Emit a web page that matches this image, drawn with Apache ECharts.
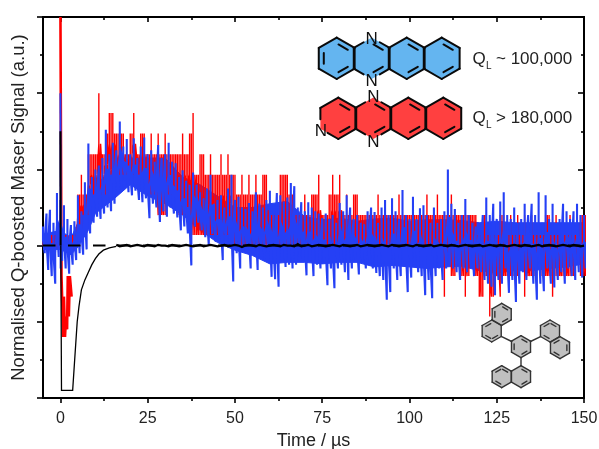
<!DOCTYPE html>
<html><head><meta charset="utf-8">
<style>html,body{margin:0;padding:0;background:#fff}#c{width:599px;height:449px}</style>
<script src="https://cdn.jsdelivr.net/npm/echarts@6/dist/echarts.min.js"></script>
</head><body><div id="c"></div>
<script>
// one upper and one lower value per microsecond, from t = -5 to t = 150
const firstTime = -5;
const blueHigh = [.25,.42,.47,.30,.69,
.60,.53,.35,.27,.32,.66,.45,.83,1.34,.90,
1.0,1.05,1.15,1.52,1.2,1.35,1.25,1.63,1.3,1.4,
1.2,1.41,1.15,1.3,1.42,1.2,1.25,1.1,1.32,1.15,
1.2,1.35,1.1,1.08,.9,.99,.85,.8,.96,.8,
.70,.62,.75,.93,.55,.6,.66,.5,.75,.93,
.6,.64,.5,.48,.56,.45,.7,.55,.5,.6,
.72,.55,.69,.66,.58,.63,.82,.78,.5,.57,
.45,.57,.5,.45,.42,.36,.42,.35,.4,.3,
.56,.45,.66,.5,.35,.4,.3,.28,.45,.5,
.44,.3,.5,.6,.4,.62,.45,.35,.73,.4,
.35,.64,.35,.49,.53,.4,.3,.5,.3,.35,
.45,1.0,.55,.48,.3,.4,.61,.4,.3,.25,
.3,.4,.63,.4,.55,.35,.58,.7,.4,.35,
.5,.3,.35,.55,.4,.55,.4,.7,.3,.66,
.35,.55,.3,.35,.55,.45,.35,.45,.55,.4,.4];
const blueLow = [-.1,-.32,-.4,-.5,-.15,
-.2,-.3,-.37,-.25,-.19,-.1,-.12,-.05,.16,.3,
.38,.35,.42,.5,.45,.55,.7,.75,.86,.7,
.66,.72,.6,.57,.62,.36,.55,.5,.31,.45,
.38,.5,.42,.37,.2,.25,.16,-.26,.25,.3,
.2,.11,.0,.15,.05,.1,-.19,.0,.02,-.47,
-.1,-.3,-.05,-.1,-.3,-.1,-.32,-.15,-.2,-.1,
-.41,-.44,-.54,-.2,-.28,-.25,-.3,-.25,-.15,-.2,
-.39,-.2,-.4,-.25,-.3,-.2,-.52,-.3,-.56,-.3,
-.25,-.35,-.45,-.3,-.2,-.38,-.22,-.3,-.2,-.3,
-.36,-.4,-.45,-.71,-.61,-.3,-.45,-.4,-.25,-.61,
-.42,-.25,-.35,-.4,-.65,-.45,-.69,-.4,-.3,-.45,
-.3,-.25,-.3,-.35,-.45,-.3,-.35,-.25,-.4,-.3,
-.35,-.45,-.5,-.54,-.65,-.45,-.5,-.3,-.62,-.45,
-.74,-.5,-.35,-.45,-.3,-.5,-.71,-.5,-.6,-.3,
-.5,-.55,-.45,-.35,-.5,-.3,-.4,-.45,-.35,-.42,-.3];
// the solid inner band of the blue trace
const blueBandTimes = [-5,0,3,5,8,10,15,20,25,30,35,40,45,50,55,60,65,70,75,80,85,90,95,100,105,110,115,120,125,130,135,140,145,150];
const blueBandTop = [.15,.2,.1,.3,.7,.8,1.0,1.15,1.15,1.15,.9,.8,.65,.5,.5,.55,.58,.38,.34,.36,.32,.35,.36,.32,.34,.34,.33,.3,.32,.3,.3,.3,.3,.3];
const blueBandBottom = [-.05,-.05,-.12,-.02,.2,.42,.6,.8,.65,.55,.4,.2,.04,-.06,-.13,-.24,-.22,-.22,-.24,-.22,-.22,-.28,-.26,-.28,-.3,-.28,-.27,-.33,-.36,-.33,-.33,-.3,-.28,-.24];
const redHigh = [.14,.14,.14,.14,.14,
.4,.14,.14,.14,.14,.67,.93,.67,1.2,1.2,
1.2,2.0,1.2,1.47,1.74,1.74,1.47,1.47,1.47,1.2,
1.47,1.74,1.2,1.47,1.47,1.2,1.47,1.2,1.47,1.2,
1.47,1.2,1.2,1.2,1.2,1.47,1.2,1.47,1.74,.93,
1.2,1.2,.93,1.2,.93,.93,1.2,.93,1.2,.93,
.93,.67,.93,.67,.93,.67,.93,.67,.93,.93,
.4,.4,.4,.93,.93,.93,.67,.67,.4,.4,
.67,.4,.67,.67,.93,.4,.4,.67,.93,.67,
.93,.4,.67,.4,.67,.67,.4,.4,.4,.4,
.4,.67,.4,.4,.4,.4,.4,.67,.4,.4,
.4,.4,.4,.4,.4,.67,.4,.4,.67,.4,
.4,.4,.67,.4,.4,.4,.4,.4,.4,.4,
.14,.4,.4,.14,.4,.14,.4,.4,.14,.4,
.14,.4,.14,.4,.14,.4,.14,.14,.14,.4,
.4,.14,.4,.14,.4,.14,.4,.14,.14,.4,.4];
const redLow = [0,0,0,0,0,
0,0,0,0,0,.14,.14,.4,.4,.67,
.67,.67,.67,.67,.93,.93,.93,.93,.93,.93,
.93,.93,.93,.93,.93,.67,.67,.67,.4,.4,
.4,.67,.67,.67,.4,.4,.4,.4,.14,.14,
.14,.14,.14,.14,.14,.14,.14,.14,.14,.14,
0,0,0,0,0,0,0,0,0,0,
0,0,0,0,0,0,0,0,0,0,
0,0,0,0,0,0,0,0,0,0,
0,0,0,0,0,0,0,0,0,0,
0,0,0,0,0,0,0,0,0,0,
0,0,0,0,0,0,0,0,0,0,
-.67,0,-.4,-.4,0,-.4,-.67,-.4,0,-.4,
-.67,-.67,-.4,-.93,-.67,-.4,-.67,-.4,-.4,-.4,
-.4,-.4,0,-.67,-.4,-.4,-.4,0,-.4,-.4,
-.4,-.67,-.4,-.4,-.4,-.4,-.4,-.4,0,-.4,-.4];
// the excitation pulse near t = 0
const redPulseTimes = [0,0.3,0.8,1.0,1.3,1.6,1.9,2.1,2.4,2.7,3.2];
const redPulseValues = [3.0,-.4,-1.2,-.67,-1.2,-.93,-1.1,-.4,-.93,-.4,-.67];
const bluePulseTimes = [0,0.05];
const bluePulseValues = [2.0,-.3];
const blackSpikeTimes = [0,0.05];
const blackSpikeValues = [1.5,0];
const blackDecayTimes = [0.1,0.3,3.5,4.0,4.8,5.3,6,7,8,9,10,11,12.3,14,16];
const blackDecayValues = [0,-1.9,-1.9,-1.55,-1.0,-.8,-.58,-.45,-.35,-.25,-.17,-.11,-.06,-.03,-.01];
// black trace from t = 16 to t = 150
const blackTailStart = 16;
const blackTail = [.01,-.01,.0,.01,-.01,.0,.01,.0,-.01,.01,.0,-.01,.01,.0,.0,-.01,.01,.0,-.01,.0,
.01,.0,-.01,.0,.01,-.01,.0,.01,.0,-.01,.0,.01,-.01,.0,.01,.0,-.02,.0,.01,.0,
-.01,.01,.0,-.01,.0,.01,.0,-.01,.01,.0,.0,-.01,.02,-.01,.0,.01,-.01,.0,.01,.0,
-.01,.0,.01,.0,-.01,.01,.0,-.01,.0,.01,-.01,.0,.01,.0,-.01,.0,.01,.0,-.01,.01,
.0,-.01,.0,.01,.0,-.01,.01,.0,-.01,.0,.01,-.01,.0,.01,.0,-.01,.01,.0,-.01,.0,
.01,.0,-.01,.0,.01,-.01,.0,.01,.0,-.01,.01,.0,-.01,.0,.01,.0,-.01,.01,.0,-.01,
.0,.01,-.01,.0,.01,.0,-.01,.0,.01,.0,-.01,.01,.0,-.01,.0];
const zeroLine = [[-5,0],[150,0]];
const xMajor = [0,25,50,75,100,125,150];
const xMinor = [12.5,37.5,62.5,87.5,112.5,137.5];

const RED='#ff0000', BLUE='#2540f5';
function pulse(ts,vs){return ts.map((t,i)=>[t,vs[i]]);}
const blueData=[];
blueHigh.forEach((h,i)=>{const t=firstTime+i,l=blueLow[i],m=(h+l)/2;
  blueData.push([t,m],[t,h],[t,m],[t+.5,m],[t+.5,l],[t+.5,m]);});
const redData=[];
redHigh.forEach((h,i)=>{const t=firstTime+i,l=redLow[i],m=(h+l)/2;
  const n=i+1<redHigh.length?i+1:i;
  const s=Math.min(h,redHigh[n]), sl=Math.max(l,redLow[n]);
  redData.push([t,m],[t,l],[t,h],[t,m],[t+.5,m],[t+.5,sl],[t+.5,s],[t+.5,m]);});
const tailData=blackTail.map((v,i)=>[blackTailStart+i,v]);
function line(name,data,color,width,extra){return Object.assign({name,type:'line',data,symbol:'none',sampling:null,animation:false,silent:true,
  lineStyle:{color,width,join:'miter'},xAxisIndex:0,yAxisIndex:0},extra||{});}

const axisStyle={lineStyle:{color:'#000',width:2}};
function xAx(pos,vals,len,inside,labels){return {type:'value',position:pos,min:-5,max:150,
  axisLine:Object.assign({show:true,onZero:false},axisStyle),splitLine:{show:false},
  axisTick:{show:true,customValues:vals,length:len,inside,lineStyle:{color:'#000',width:1.6}},
  axisLabel:labels?{show:true,customValues:vals,color:'#222',fontFamily:'Liberation Sans',fontSize:16,margin:13}:{show:false}};}
const x0=xAx('bottom',xMajor,5,false,true);
Object.assign(x0,{name:'Time / µs',nameLocation:'middle',nameGap:34,nameTextStyle:{color:'#222',fontFamily:'Liberation Sans',fontSize:18}});
function yAx(pos,inside,title){const a={type:'value',position:pos,min:-2,max:3,interval:1,
  axisLine:Object.assign({show:true,onZero:false},axisStyle),splitLine:{show:false},minorSplitLine:{show:false},
  axisTick:{show:true,length:6,inside,lineStyle:{color:'#000',width:1.6}},
  minorTick:{show:true,splitNumber:2,length:3,lineStyle:{color:'#000',width:1.6}},axisLabel:{show:false}};
  if(title)Object.assign(a,{name:title,nameLocation:'middle',nameGap:15,nameTextStyle:{color:'#222',fontFamily:'Liberation Sans',fontSize:18.5}});
  return a;}

// molecule drawings
const g=[];
function hexV(c,r){const v=[];for(let k=0;k<6;k++){const a=(-90+60*k)*Math.PI/180;v.push([c[0]+r*Math.cos(a),c[1]+r*Math.sin(a)]);}return v;}
function seg(a,b,col,w){g.push({type:'line',z:50,shape:{x1:a[0],y1:a[1],x2:b[0],y2:b[1]},style:{stroke:col,lineWidth:w,lineCap:'round'}});}
function lerp(a,b,t){return [a[0]+(b[0]-a[0])*t,a[1]+(b[1]-a[1])*t];}
function ring(c,r,fill,col,w,inner,cut){
  const v=hexV(c,r);cut=cut||{};
  g.push({type:'polygon',z:49,shape:{points:v},style:{fill,stroke:null}});
  for(let e=0;e<6;e++){const a=v[e],b=v[(e+1)%6];const s=cut[e]||[0,1];seg(lerp(a,b,s[0]),lerp(a,b,s[1]),col,w);}
  const iv=hexV(c,r*0.72);
  (inner||[]).forEach(e=>{const a=iv[e],b=iv[(e+1)%6];seg(lerp(a,b,.14),lerp(a,b,.86),col,w);});
}
function txt(t,x,y,size,col,align){g.push({type:'text',z:60,style:{text:t,x,y,fill:col||'#222',font:(size||16)+'px "Liberation Sans"',textAlign:align||'left',textVerticalAlign:'middle'}});}
const R=20.7, D=35;
const N2cut={5:[0,.55],0:[.45,1],2:[0,.55],3:[.45,1]};
[0,1,2,3].forEach(i=>{
  const c=[336.7+D*i,58.3];
  ring(c,R,'#64b5f0','#0a0a0a',2,i===0?[0,2,4]:[0,2],i===1?N2cut:null);
});
[0,1,2,3].forEach(i=>{
  const c=[338.3+D*i,118.3];
  const cut=i===1?N2cut:(i===0?{3:[0,.6],4:[.45,1]}:null);
  ring(c,R,'#ff4040','#0a0a0a',2,[0,2],cut);
});
txt('N',371.7,39,17,'#111','center');txt('N',371.7,81,17,'#111','center');
txt('N',373.3,97,17,'#111','center');txt('N',373.3,142,17,'#111','center');
txt('N',321,131,17,'#111','center');
function qLabel(y,rest){txt('Q',472.5,y,17,'#222');txt('L',486,y+7,10,'#222');txt(rest,496,y,17,'#222');}
qLabel(59,'~ 100,000');qLabel(118,'> 180,000');
const GF='#c0c0c0',GS='#333',gr=11;
ring([521,346.7],gr,GF,GS,1.4,[0,2,4]);
ring([501.7,314.3],gr,GF,GS,1.4,[0,2,4]);ring([491.7,331],gr,GF,GS,1.4,[2,3,5]);
ring([550,331],gr,GF,GS,1.4,[0,3,5]);ring([560,347.7],gr,GF,GS,1.4,[1,3,5]);
ring([501.7,376.7],gr,GF,GS,1.4,[3,5,0]);ring([521,376.7],gr,GF,GS,1.4,[0,2]);
seg([501.7,336.7],[511.7,341.5],GS,1.4);seg([540.5,336.7],[530.5,341.5],GS,1.4);seg([521,357.7],[521,366],GS,1.4);

const chart=echarts.init(document.getElementById('c'),null,{renderer:'canvas'});
chart.setOption({animation:false,backgroundColor:'#fff',
 grid:{left:43,right:15,top:17,bottom:51,containLabel:false,outerBoundsMode:'none'},
 xAxis:[x0,xAx('bottom',xMinor,3,false,false),xAx('top',xMajor,5,true,false),xAx('top',xMinor,3,true,false)],
 yAxis:[yAx('left',false,'Normalised Q-boosted Maser Signal (a.u.)'),yAx('right',true,null)],
 series:[
  line('red',redData,RED,1.4),
  line('redPulse',pulse(redPulseTimes,redPulseValues),RED,2.6),
  {name:'blueBand',type:'custom',silent:true,animation:false,clip:true,data:[[0,0]],xAxisIndex:0,yAxisIndex:0,
   renderItem:function(params,api){
    const pts=[];
    blueBandTimes.forEach((t,i)=>pts.push(api.coord([t,blueBandTop[i]])));
    for(let i=blueBandTimes.length-1;i>=0;i--)pts.push(api.coord([blueBandTimes[i],blueBandBottom[i]]));
    return {type:'polygon',shape:{points:pts},style:{fill:BLUE,stroke:BLUE,lineWidth:1}};
   }},
  line('blue',blueData,BLUE,2.1),
  line('bluePulse',pulse(bluePulseTimes,bluePulseValues),BLUE,2),
  line('zero',zeroLine,'#000',2,{lineStyle:{color:'#000',width:2,type:[12.5,12.5]}}),
  line('blackSpike',pulse(blackSpikeTimes,blackSpikeValues),'#000',2),
  line('blackDecay',pulse(blackDecayTimes,blackDecayValues),'#000',1.3),
  line('blackTail',tailData,'#000',2.2)
 ],
 graphic:{elements:g}
});
</script></body></html>
